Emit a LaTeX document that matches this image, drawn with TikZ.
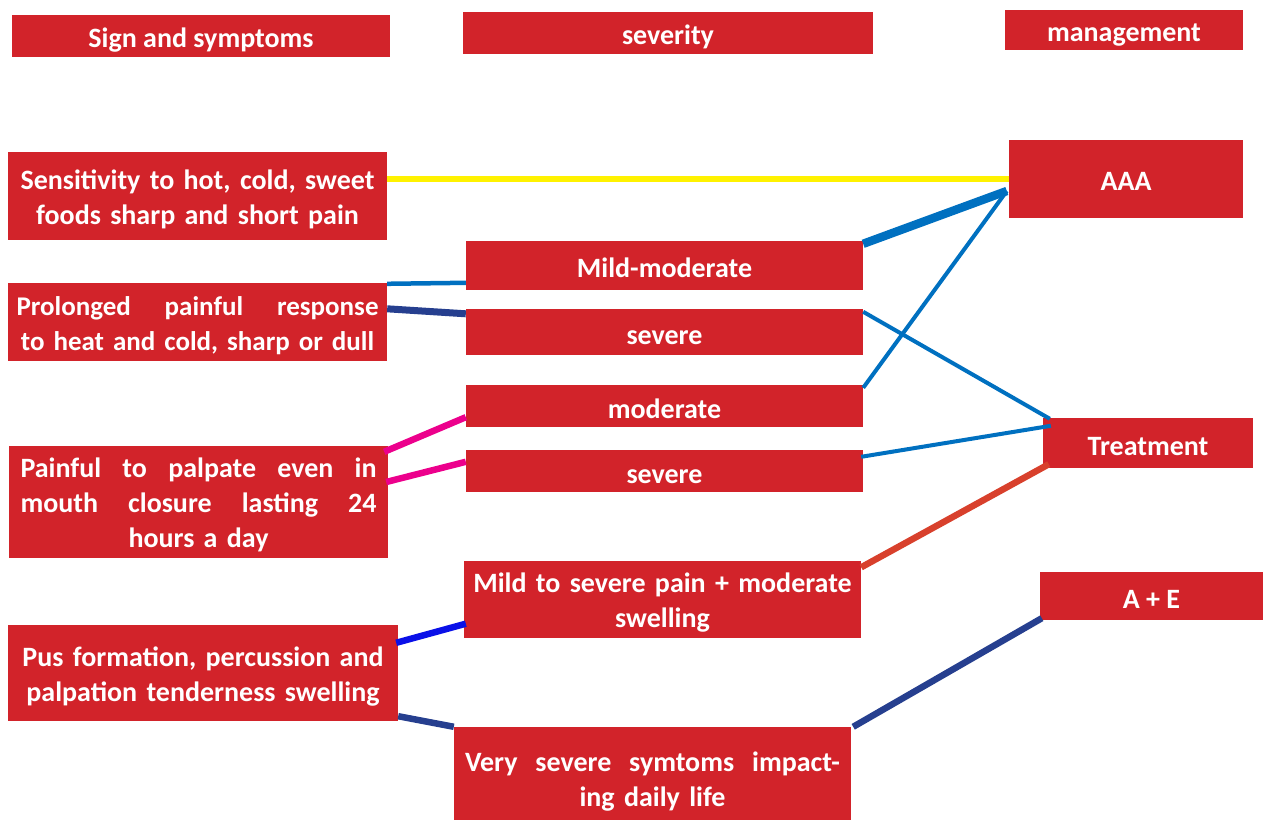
\documentclass[tikz,border=0pt]{standalone}
\usepackage{fontspec}
\setmainfont{Carlito}
\usetikzlibrary{positioning}
\definecolor{boxred}{HTML}{D2232A}
\definecolor{lineyellow}{HTML}{FFF200}
\definecolor{lineblue}{HTML}{0070C0}
\definecolor{linenavy}{HTML}{263F8F}
\definecolor{linepink}{HTML}{EC008C}
\definecolor{linebright}{HTML}{0A10E8}
\definecolor{lineorange}{HTML}{D8402C}

\begin{document}
\begin{tikzpicture}[x=1pt,y=-1pt,
  box/.style={rectangle,fill=boxred,text=white,inner sep=0pt,align=center,
    font=\bfseries\fontsize{28}{35}\selectfont},
  one/.style={text height=24pt,text depth=0pt},
  multi/.style={execute at begin node={\rule{0pt}{26pt}}},
  head/.style={box,one,minimum height=42pt},
  sign/.style={box,multi,minimum width=379pt},
  sev/.style={box,minimum width=397pt}]
\useasboundingbox (0,0) rectangle (1263,821);
\node[head,minimum width=378pt](signhead) at (201,36){Sign and symptoms};
\node[head,minimum width=410pt](sevhead) at (668,33){severity};
\node[head,minimum width=238pt,minimum height=40pt](manhead) at (1124,30){management};
\node[sign,minimum height=88pt,text width=370pt](s1) at (197.5,196){Sensitivity to hot, cold, sweet\\foods sharp and short pain};
\node[sign,minimum height=78pt,text width=362pt,font=\bfseries\fontsize{27}{35}\selectfont](s2) at (197.5,322){Prolonged\hfill painful\hfill response\\to heat and cold, sharp or dull};
\node[sign,minimum height=112pt,text width=356pt](s3) at (198.5,502){Painful\hfill to\hfill palpate\hfill even\hfill in\\mouth\hfill closure\hfill lasting\hfill 24\\hours a day};
\node[sign,minimum width=390pt,minimum height=96pt,text width=380pt](s4) at (203,673){Pus formation, percussion and\\palpation tenderness swelling};
\node[sev,one,minimum height=49pt](m1) at (664.5,265.5){Mild-moderate};
\node[sev,one,minimum height=46pt](m2) at (664.5,332){severe};
\node[sev,one,minimum height=42pt](m3) at (664.5,406){moderate};
\node[sev,one,minimum height=42pt](m4) at (664.5,471){severe};
\node[sev,multi,minimum height=77pt,text width=390pt](m5) at (662.5,599){Mild to severe pain + moderate\\swelling};
\node[sev,minimum height=93pt,text width=375pt,execute at begin node={\rule{0pt}{35pt}}](m6) at (652.5,773.5){Very\hfill severe\hfill symtoms\hfill impact-\\ing daily life};
\node[box,one,minimum width=234pt,minimum height=78pt](aaa) at (1126,179){AAA};
\node[box,one,minimum width=210pt,minimum height=50pt](treat) at (1148,443){Treatment};
\node[box,one,minimum width=223pt,minimum height=48pt](ae) at (1151.5,596){A + E};
\draw[lineyellow,line width=6pt] (s1.east |- aaa.west) -- (aaa.west);
\draw[lineblue,line width=4.5pt] ([yshift=-1pt]s2.north east) -- (m1.west |- s2.north east);
\draw[linenavy,line width=7pt] ([yshift=-5pt]m2.north west) -- (s2.east |- m2.north west);
\draw[linepink,line width=6.5pt] ([xshift=-4pt,yshift=-6pt]s3.north east) -- ([yshift=10pt]m3.south west);
\draw[linepink,line width=6.5pt] ([xshift=-2pt,yshift=20pt]s3.east) -- ([yshift=-12pt]m4.north west);
\draw[lineblue,line width=8.5pt] ([yshift=-3pt]m1.north east) -- ([xshift=-2pt,yshift=-12pt]aaa.west);
\draw[lineblue,line width=4pt] ([yshift=-3pt]m3.north east) -- ([xshift=-2pt,yshift=-12pt]aaa.west);
\draw[lineblue,line width=4pt] ([yshift=-3pt]m2.north east) -- ([xshift=7pt,yshift=-1pt]treat.north west);
\draw[lineblue,line width=4pt] ([xshift=-2pt,yshift=-7pt]m4.north east) -- ([xshift=8pt,yshift=-8pt]treat.north west);
\draw[lineorange,line width=6.5pt] ([yshift=-7pt]m5.north east) -- ([xshift=6pt,yshift=4pt]treat.south west);
\draw[linebright,line width=6.5pt] ([xshift=-2pt,yshift=-18pt]s4.north east) -- ([xshift=2pt,yshift=14pt]m5.south west);
\draw[linenavy,line width=6.5pt] ([yshift=5pt]s4.south east) -- (m6.north west);
\draw[linenavy,line width=6.5pt] ([xshift=2pt]m6.north east) -- ([xshift=2pt,yshift=2pt]ae.south west);
\end{tikzpicture}
\end{document}
